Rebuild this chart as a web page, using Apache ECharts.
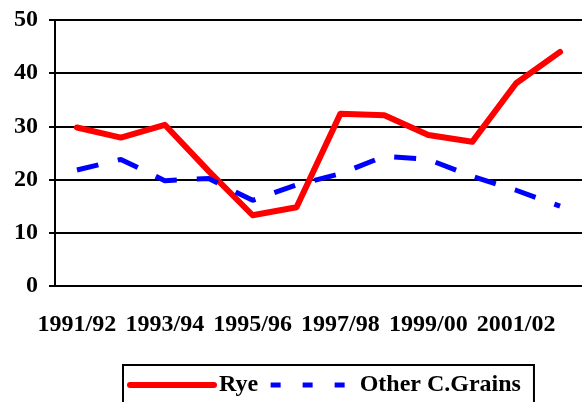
<!DOCTYPE html>
<html>
<head>
<meta charset="utf-8">
<script src="https://cdn.jsdelivr.net/npm/echarts@6/dist/echarts.min.js"></script>
<style>
  html, body { margin: 0; padding: 0; background: #fff; }
  #main { width: 582px; height: 402px; }
</style>
</head>
<body>
<div id="main"></div>
<script>
// chart data
var years = ['1991/92', '1992/93', '1993/94', '1994/95', '1995/96', '1996/97',
             '1997/98', '1998/99', '1999/00', '2000/01', '2001/02', '2002/03'];
var rye = [29.8, 27.9, 30.3, 21.6, 13.3, 14.8, 32.4, 32.1, 28.4, 27.1, 38.1, 44.0];
var otherGrains = [21.8, 23.8, 19.8, 20.2, 16.1, 19.0, 21.1, 24.4, 23.8, 20.6, 18.0, 15.0];

var fnt = 'Liberation Serif, Times New Roman, serif';

var myChart = echarts.init(document.getElementById('main'));

var option = {
    animation: false,
    grid: { left: 55, top: 20, right: -12, bottom: 116 },
    legend: {
        left: 123,
        top: 365,
        orient: 'horizontal',
        borderColor: '#000',
        borderWidth: 2,
        padding: [8, 13, 8, 4],
        itemWidth: 84,
        itemHeight: 22,
        itemGap: 10,
        itemStyle: { opacity: 0 },
        textStyle: { fontFamily: fnt, fontWeight: 'bold', fontSize: 24, color: '#000' },
        data: [
            { name: 'Rye', lineStyle: { width: 6, cap: 'round' } },
            { name: 'Other C.Grains', lineStyle: { type: [10, 22], width: 5 } }
        ]
    },
    xAxis: {
        type: 'category',
        data: years,
        axisLine: { lineStyle: { color: '#000', width: 2 } },
        axisTick: { interval: 0, length: 7, lineStyle: { color: '#000', width: 2 } },
        axisLabel: {
            interval: 1,
            margin: 27,
            fontFamily: fnt,
            fontWeight: 'bold',
            fontSize: 24,
            color: '#000'
        },
        splitLine: { show: false }
    },
    yAxis: {
        type: 'value',
        min: 0,
        max: 50,
        interval: 10,
        axisLine: { show: true, lineStyle: { color: '#000', width: 2 } },
        axisTick: { show: true, length: 6, lineStyle: { color: '#000', width: 2 } },
        axisLabel: {
            margin: 17,
            fontFamily: fnt,
            fontWeight: 'bold',
            fontSize: 24,
            color: '#000'
        },
        splitLine: { lineStyle: { color: '#000', width: 2 } }
    },
    series: [
        {
            name: 'Rye',
            type: 'line',
            data: rye,
            symbol: 'none',
            color: '#ff0000',
            lineStyle: { color: '#ff0000', width: 6, cap: 'round', join: 'round' }
        },
        {
            name: 'Other C.Grains',
            type: 'line',
            data: otherGrains,
            symbol: 'none',
            color: '#0000ff',
            lineStyle: { color: '#0000ff', width: 5, type: [22, 20] }
        }
    ]
};
myChart.setOption(option);
</script>
</body>
</html>
